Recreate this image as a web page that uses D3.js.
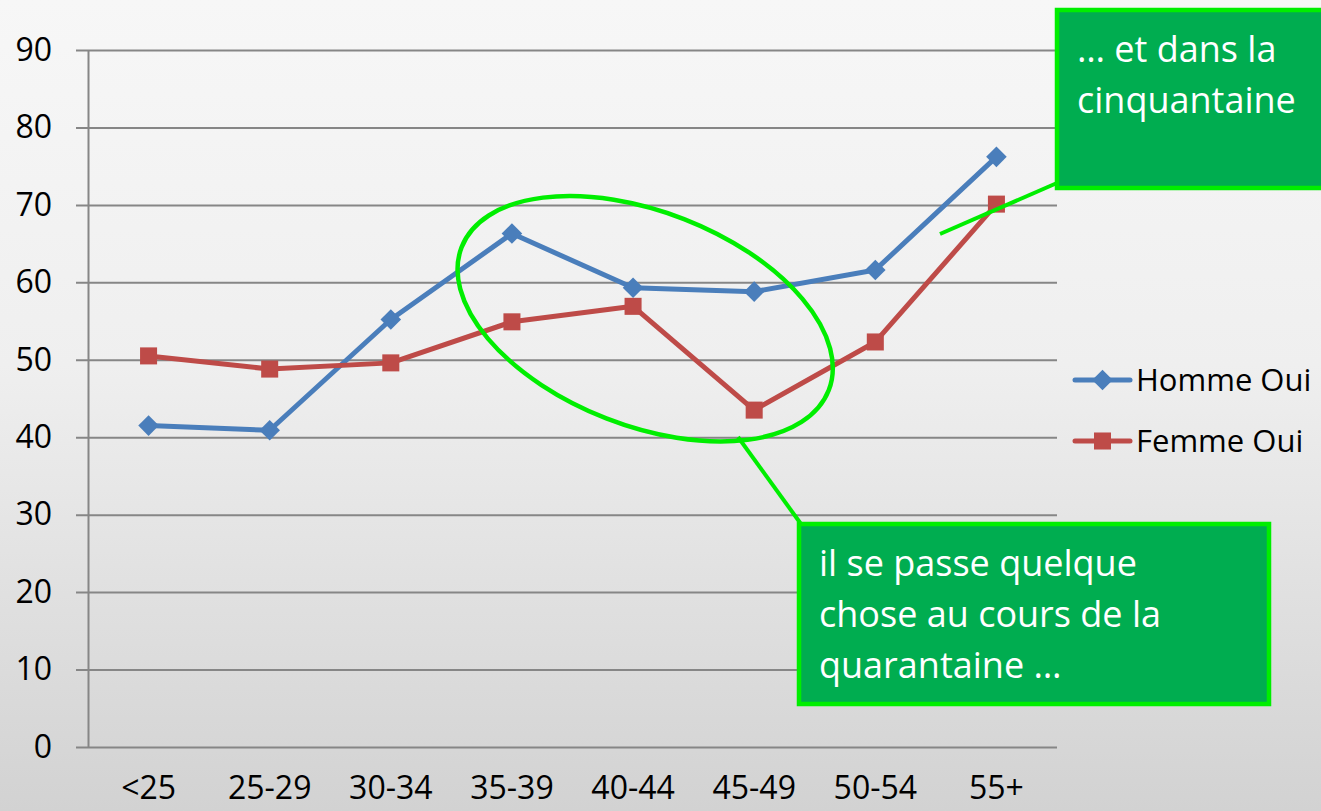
<!DOCTYPE html>
<html>
<head>
<meta charset="utf-8">
<script src="https://cdn.jsdelivr.net/npm/d3@7"></script>
<style>
  html, body { margin: 0; padding: 0; }
  body { width: 1321px; height: 811px; overflow: hidden; }
  svg text { font-family: "Open Sans", sans-serif; }
</style>
</head>
<body>
<svg id="chart" width="1321" height="811"></svg>
<script>
// age groups
const categories = ["<25", "25-29", "30-34", "35-39", "40-44", "45-49", "50-54", "55+"]
const hommeOui = [41.5, 40.9, 55.2, 66.3, 59.3, 58.8, 61.6, 76.2]
const femmeOui = [50.5, 48.8, 49.6, 54.9, 56.9, 43.5, 52.3, 70.1]
const yTicks = [0, 10, 20, 30, 40, 50, 60, 70, 80, 90]

const series = [
  { name: "Homme Oui", values: hommeOui, color: "#4a7ebb", marker: d3.symbolDiamond2, size: 270 },
  { name: "Femme Oui", values: femmeOui, color: "#be4b48", marker: d3.symbolSquare, size: 290 }
]

const svg = d3.select("#chart")
const width = +svg.attr("width"),
      height = +svg.attr("height")

const margin = { top: 50, left: 88, right: 264, bottom: 64 }

const x = d3.scaleBand()
    .domain(categories)
    .range([margin.left, width - margin.right])

const y = d3.scaleLinear()
    .domain([0, 90])
    .range([height - margin.bottom, margin.top])

//
// Background
//
const defs = svg.append("defs")
const grad = defs.append("linearGradient")
    .attr("id", "bg")
    .attr("x1", 0).attr("y1", 0).attr("x2", 0).attr("y2", 1)
grad.append("stop").attr("offset", "0%").attr("stop-color", "#f7f7f7")
grad.append("stop").attr("offset", "45%").attr("stop-color", "#efefef")
grad.append("stop").attr("offset", "100%").attr("stop-color", "#d2d2d2")

svg.append("rect")
    .attr("width", width)
    .attr("height", height)
    .attr("fill", "url(#bg)")

//
// Axes
//
const yAxis = svg.append("g")
    .attr("transform", "translate(" + margin.left + ",0)")
    .call(d3.axisLeft(y)
        .tickValues(yTicks)
        .tickSize(-(width - margin.right - margin.left))
        .tickSizeOuter(0))

yAxis.select(".domain").attr("stroke", "#868686").attr("stroke-width", 2)
yAxis.selectAll(".tick line")
    .attr("stroke", "#868686")
    .attr("stroke-width", 2)
    .attr("x1", -12)
yAxis.selectAll(".tick text")
    .attr("fill", "#000")
    .attr("font-size", 32)
    .attr("text-anchor", "end")
    .attr("x", -36)

const xAxis = svg.append("g")
    .attr("transform", "translate(0," + (height - margin.bottom) + ")")
    .call(d3.axisBottom(x).tickSize(0).tickPadding(24))

xAxis.select(".domain").remove()
xAxis.selectAll(".tick text")
    .attr("fill", "#000")
    .attr("font-size", 32)
    .attr("dy", "0.88em")

//
// Lines
//
const line = d3.line()
    .x((d, i) => x(categories[i]) + x.bandwidth() / 2)
    .y(d => y(d))

const groups = svg.append("g")
  .selectAll("g")
  .data(series)
  .enter().append("g")

groups.append("path")
    .attr("d", d => line(d.values))
    .attr("fill", "none")
    .attr("stroke", d => d.color)
    .attr("stroke-width", 5)
    .attr("stroke-linejoin", "round")

groups.each(function (s) {
  d3.select(this).selectAll(".pt")
    .data(s.values)
    .enter().append("path")
      .attr("class", "pt")
      .attr("d", d3.symbol().type(s.marker).size(s.size))
      .attr("transform", (d, i) => "translate(" + (x(categories[i]) + x.bandwidth() / 2) + "," + y(d) + ")")
      .attr("fill", s.color)
})

//
// Legend
//
const legend = svg.append("g")
  .selectAll("g")
  .data(series)
  .enter().append("g")
    .attr("transform", (d, i) => "translate(1075," + (380 + i * 61) + ")")

legend.append("line")
    .attr("x1", 0).attr("x2", 55)
    .attr("stroke", d => d.color)
    .attr("stroke-width", 5)
    .attr("stroke-linecap", "round")

legend.append("path")
    .attr("d", d => d3.symbol().type(d.marker).size(d.size)())
    .attr("transform", "translate(27.5,0)")
    .attr("fill", d => d.color)

legend.append("text")
    .attr("x", 61)
    .attr("dy", "0.36em")
    .attr("font-size", 31)
    .attr("fill", "#000")
    .text(d => d.name)

//
// Annotations
//
const green = "#00ee00"

// ellipse round the forties
const cx = x("40-44") + x.bandwidth() * 0.6,
      cy = y(55.3)
svg.append("ellipse")
    .attr("cx", 0).attr("cy", 0)
    .attr("rx", 197).attr("ry", 107)
    .attr("transform", "translate(" + cx + "," + cy + ") rotate(21.3)")
    .attr("fill", "none")
    .attr("stroke", green)
    .attr("stroke-width", 4.5)

function callout(box, pointer, lines) {
  svg.append("line")
      .attr("x1", pointer[0]).attr("y1", pointer[1])
      .attr("x2", pointer[2]).attr("y2", pointer[3])
      .attr("stroke", green)
      .attr("stroke-width", 4)

  svg.append("rect")
      .attr("x", box.x).attr("y", box.y)
      .attr("width", box.w).attr("height", box.h)
      .attr("fill", "#00ad50")
      .attr("stroke", green)
      .attr("stroke-width", 4.5)

  const t = svg.append("text")
      .attr("x", box.x + 20)
      .attr("y", box.y + 52)
      .attr("font-size", 36)
      .attr("fill", "#fff")
  lines.forEach((l, i) => {
    t.append("tspan")
        .attr("x", box.x + 20)
        .attr("dy", i === 0 ? 0 : 51)
        .text(l)
  })
}

callout({ x: 1057, y: 10, w: 290, h: 178 }, [940, 234, 1057, 183],
        ["… et dans la", "cinquantaine"])

callout({ x: 799, y: 524, w: 470, h: 180 }, [738, 437, 801, 524],
        ["il se passe quelque", "chose au cours de la", "quarantaine …"])
</script>
</body>
</html>
